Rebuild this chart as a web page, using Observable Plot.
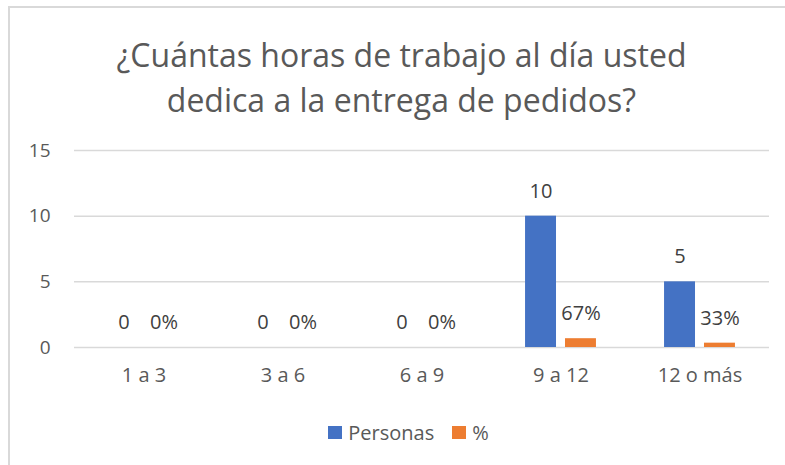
<!DOCTYPE html>
<html>
<head>
<meta charset="utf-8">
<script src="https://cdn.jsdelivr.net/npm/d3@7"></script>
<script src="https://cdn.jsdelivr.net/npm/@observablehq/plot@0.6"></script>
<style>
  html, body { margin: 0; padding: 0; background: #fff; }
  #wrap { position: relative; width: 785px; height: 465px; overflow: hidden; font-family: "Open Sans", sans-serif; color: #595959; }
  #frame { position: absolute; left: 8px; top: 6px; width: 800px; height: 500px; border-left: 2px solid #d9d9d9; border-top: 2px solid #d9d9d9; box-sizing: border-box; pointer-events: none; }
  #title { height: 125px; box-sizing: border-box; padding-top: 32px; text-align: center; font-size: 32px; line-height: 45px; color: #595959; padding-left: 18px; }
  #legend { height: 65px; display: flex; justify-content: center; align-items: center; font-size: 20px; color: #595959; padding-left: 32px; box-sizing: border-box; }
  .sw { display: inline-block; width: 14px; height: 13px; margin-right: 6px; }
  .item { display: flex; align-items: center; margin: 0 9px; }
  svg { display: block; }
</style>
</head>
<body>
<div id="wrap">
  <div id="frame"></div>
  <div id="title">¿Cuántas horas de trabajo al día usted<br>dedica a la entrega de pedidos?</div>
  <div id="chart"></div>
  <div id="legend"></div>
</div>
<script>
const categories = ["1 a 3", "3 a 6", "6 a 9", "9 a 12", "12 o más"];
const series = ["Personas", "%"];
const personas = [0, 0, 0, 10, 5];
const porcentaje = [0, 0, 0, 0.67, 0.33];
const yTicks = [0, 5, 10, 15];
const colors = ["#4472C4", "#ED7D31"];

const rows = [];
categories.forEach((c, i) => {
  rows.push({cat: c, serie: "Personas", value: personas[i], label: String(personas[i])});
  rows.push({cat: c, serie: "%", value: porcentaje[i], label: Math.round(porcentaje[i] * 100) + "%"});
});

const chart = Plot.plot({
  width: 785,
  height: 275,
  marginLeft: 73,
  marginRight: 16,
  marginTop: 25,
  marginBottom: 53,
  style: {fontFamily: "'Open Sans', sans-serif", fontSize: "19px", color: "#595959", background: "transparent"},
  fx: {domain: categories, padding: 0, label: null},
  x: {domain: series, paddingInner: 0.225, paddingOuter: 0.8525, axis: null, round: false},
  y: {domain: [0, 15], label: null},
  color: {domain: series, range: colors},
  marks: [
    Plot.ruleY(yTicks, {stroke: "#d9d9d9", strokeWidth: 1.5, strokeOpacity: 1}),
    Plot.axisY(yTicks, {tickSize: 0, tickPadding: 24, fontSize: 19, fill: "#595959", label: null}),
    Plot.axisFx({anchor: "bottom", tickSize: 0, tickPadding: 20, fontSize: 20, fill: "#595959", label: null}),
    Plot.barY(rows, {fx: "cat", x: "serie", y: "value", fill: "serie"}),
    Plot.text(rows, {fx: "cat", x: "serie", y: "value", text: "label", dy: -25, fill: "#404040", fontSize: 20})
  ]
});
document.getElementById("chart").appendChild(chart);

const legend = document.getElementById("legend");
series.forEach((s, i) => {
  const it = document.createElement("span");
  it.className = "item";
  const sw = document.createElement("span");
  sw.className = "sw";
  sw.style.background = colors[i];
  it.appendChild(sw);
  it.appendChild(document.createTextNode(s));
  legend.appendChild(it);
});
</script>
</body>
</html>
